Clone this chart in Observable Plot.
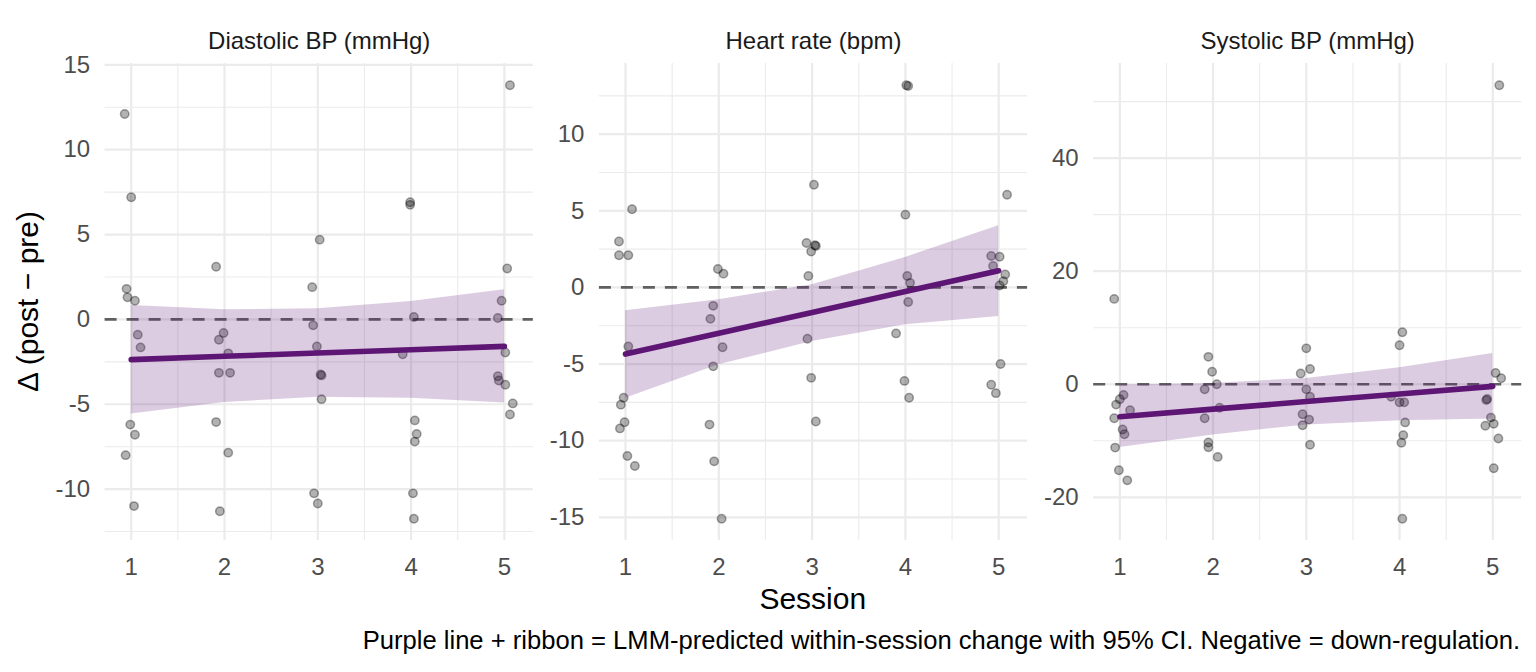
<!DOCTYPE html>
<html>
<head>
<meta charset="utf-8">
<script src="https://cdn.jsdelivr.net/npm/d3@7"></script>
<script src="https://cdn.jsdelivr.net/npm/@observablehq/plot@0.6"></script>
<style>
  html, body { margin: 0; padding: 0; background: #ffffff; }
  #root { position: relative; width: 1536px; height: 672px; overflow: hidden; font-family: "Liberation Sans", Arial, sans-serif; }
  .panel { position: absolute; top: 0; }
  #overlay { position: absolute; left: 0; top: 0; pointer-events: none; }
</style>
</head>
<body>
<div id="root">
  <div class="panel" id="p1" style="left:0px"></div>
  <div class="panel" id="p2" style="left:540px"></div>
  <div class="panel" id="p3" style="left:1035px"></div>
  <svg id="overlay" width="1536" height="672" font-family="Liberation Sans, Arial, sans-serif">
    <text id="ytitle" transform="translate(38,301.5) rotate(-90)" text-anchor="middle" font-size="30" fill="#000">Δ (post − pre)</text>
    <text id="xtitle" x="812.8" y="608.5" text-anchor="middle" font-size="30" fill="#000">Session</text>
    <text id="caption" x="1520" y="649" text-anchor="end" font-size="25.6" fill="#000">Purple line + ribbon = LMM-predicted within-session change with 95% CI. Negative = down-regulation.</text>
  </svg>
</div>
<script>
// ---------- data ----------
const panelTitles = ["Diastolic BP (mmHg)", "Heart rate (bpm)", "Systolic BP (mmHg)"];

const sessionTicks = [1, 2, 3, 4, 5];
const sessionMinor = [1.5, 2.5, 3.5, 4.5];
const xDomain = [0.72, 5.31];

// Diastolic BP: jittered session, change
const dbpSession = [0.93,1.00,0.95,0.96,1.04,1.07,1.10,0.99,1.04,0.94,1.03,
  1.91,1.99,1.94,2.04,1.94,2.06,1.91,2.04,1.95,
  3.02,2.94,2.95,2.99,3.03,3.04,3.04,2.96,3.00,
  3.99,3.99,4.03,3.91,4.04,4.06,4.04,4.02,4.03,
  5.06,5.03,4.97,4.93,5.01,4.93,4.94,5.01,5.09,5.06];
const dbpChange = [12.1,7.2,1.8,1.3,1.1,-0.9,-1.65,-6.2,-6.8,-8.0,-11.0,
  3.1,-0.8,-1.2,-2.0,-3.15,-3.15,-6.05,-7.85,-11.3,
  4.7,1.9,-0.35,-1.6,-3.25,-3.3,-4.7,-10.25,-10.85,
  6.9,6.75,0.14,-2.05,-5.95,-6.75,-7.2,-10.25,-11.75,
  13.8,3.0,1.1,0.08,-1.95,-3.35,-3.6,-3.85,-4.95,-5.6];

// Heart rate
const hrSession = [0.93,0.93,1.03,1.07,1.03,0.98,0.95,0.99,0.94,1.02,1.10,
  1.99,2.05,1.94,1.91,2.04,1.94,1.90,1.95,2.03,
  3.02,2.94,3.03,3.04,2.99,2.96,2.95,2.99,3.04,
  4.01,4.03,4.00,4.02,4.05,4.03,3.90,3.99,4.04,
  5.09,4.92,5.01,4.94,5.07,5.05,5.01,5.02,4.92,4.97];
const hrChange = [3.0,2.1,2.1,5.1,-3.85,-7.2,-7.65,-8.8,-9.2,-11.0,-11.65,
  1.2,0.9,-1.2,-2.05,-3.9,-5.15,-8.95,-11.35,-15.1,
  6.7,2.9,2.75,2.7,2.35,0.75,-3.35,-5.9,-8.75,
  13.2,13.15,4.75,0.75,0.3,-0.95,-3.0,-6.1,-7.2,
  6.05,2.05,2.0,1.4,0.85,0.4,0.13,-5.0,-6.35,-6.9];

// Systolic BP
const sbpSession = [0.94,1.04,1.00,0.96,1.11,0.94,1.03,1.05,0.95,0.99,1.08,
  1.95,1.99,2.04,1.91,2.07,1.91,1.95,1.95,2.05,
  3.00,3.04,2.94,3.00,3.04,2.96,3.03,2.96,3.04,
  4.03,4.00,3.91,4.00,4.05,4.06,4.04,4.02,4.03,
  5.07,5.03,5.09,4.93,4.94,4.98,4.92,5.01,5.06,5.01];
const sbpChange = [15.1,-1.9,-2.65,-3.6,-4.6,-6.0,-8.0,-8.85,-11.2,-15.2,-17.0,
  4.85,2.2,0.0,-0.9,-4.15,-6.0,-10.3,-11.15,-12.85,
  6.35,2.7,1.9,-0.9,-2.2,-5.3,-6.25,-7.25,-10.7,
  9.2,6.9,-2.2,-3.2,-3.2,-6.75,-9.0,-10.35,-23.8,
  52.9,2.0,1.05,-2.8,-2.6,-5.9,-7.35,-7.0,-9.6,-14.85];

// LMM predictions (sessions 1..5)
const fitSession = [1, 2, 3, 4, 5];
const dbpFit = [-2.37, -2.175, -1.98, -1.785, -1.59];
const dbpLo  = [-5.57, -4.90, -4.58, -4.64, -4.92];
const dbpHi  = [0.82, 0.57, 0.62, 1.06, 1.74];
const hrFit = [-4.35, -2.99, -1.63, -0.27, 1.09];
const hrLo  = [-7.23, -5.05, -3.53, -2.44, -1.90];
const hrHi  = [-1.52, -0.80, 0.18, 1.96, 4.03];
const sbpFit = [-5.74, -4.40, -3.06, -1.71, -0.37];
const sbpLo  = [-11.2, -8.97, -7.20, -6.44, -6.15];
const sbpHi  = [-0.14, 0.15, 1.04, 2.92, 5.45];

// y ticks
const dbpTicks = [-10, -5, 0, 5, 10, 15];
const dbpMinor = [-12.5, -7.5, -2.5, 2.5, 7.5, 12.5];
const hrTicks = [-15, -10, -5, 0, 5, 10];
const hrMinor = [-12.5, -7.5, -2.5, 2.5, 7.5, 12.5];
const sbpTicks = [-20, 0, 20, 40];
const sbpMinor = [-10, 10, 30, 50];

// ---------- drawing ----------
const PURPLE = "#5E1675";
const GRID = "#EBEBEB";

function panel(o) {
  const pts = o.px.map((x, i) => ({x, y: o.py[i]}));
  const fitRows = fitSession.map((s, i) => ({s, fit: o.fit[i], lo: o.lo[i], hi: o.hi[i]}));
  const allY = [...o.py, ...o.lo, ...o.hi, 0];
  const [mn, mx] = d3.extent(allY);
  const pad = (mx - mn) * 0.05;
  return Plot.plot({
    width: o.width,
    height: 590,
    marginLeft: o.mL,
    marginRight: o.mR,
    marginTop: 63,
    marginBottom: 50,
    x: {domain: xDomain, axis: null},
    y: {domain: [mn - pad, mx + pad], axis: null},
    style: {fontFamily: "Liberation Sans, Arial, sans-serif", fontSize: "24px", color: "#4D4D4D", background: "transparent", overflow: "visible"},
    marks: [
      Plot.ruleX(sessionMinor, {stroke: GRID, strokeWidth: 1.1}),
      Plot.ruleY(o.yMinor, {stroke: GRID, strokeWidth: 1.1}),
      Plot.ruleX(sessionTicks, {stroke: GRID, strokeWidth: 2.2}),
      Plot.ruleY(o.yTicks, {stroke: GRID, strokeWidth: 2.2}),
      Plot.ruleY([0], {stroke: "#606060", strokeWidth: 2.7, strokeDasharray: "12,10"}),
      Plot.dot(pts, {x: "x", y: "y", r: 4.2, fill: "#000", fillOpacity: 0.3, stroke: "#000", strokeOpacity: 0.35, strokeWidth: 1.5}),
      Plot.areaY(fitRows, {x: "s", y1: "lo", y2: "hi", fill: PURPLE, fillOpacity: 0.22}),
      Plot.line(fitRows, {x: "s", y: "fit", stroke: PURPLE, strokeWidth: 5.6}),
      Plot.axisX(sessionTicks, {tickSize: 0, tickPadding: 17, label: null, fontSize: 24}),
      Plot.axisY(o.yTicks, {tickSize: 0, tickPadding: 15, label: null, fontSize: 24, tickFormat: d => String(d)}),
      Plot.text([o.title], {frameAnchor: "top", dy: -22, lineAnchor: "middle", fontSize: 24, fill: "#1A1A1A"})
    ]
  });
}

document.getElementById("p1").appendChild(panel({
  title: panelTitles[0], px: dbpSession, py: dbpChange, fit: dbpFit, lo: dbpLo, hi: dbpHi,
  yTicks: dbpTicks, yMinor: dbpMinor, width: 540, mL: 104.6, mR: 7.2
}));
document.getElementById("p2").appendChild(panel({
  title: panelTitles[1], px: hrSession, py: hrChange, fit: hrFit, lo: hrLo, hi: hrHi,
  yTicks: hrTicks, yMinor: hrMinor, width: 495, mL: 58.9, mR: 7.9
}));
document.getElementById("p3").appendChild(panel({
  title: panelTitles[2], px: sbpSession, py: sbpChange, fit: sbpFit, lo: sbpLo, hi: sbpHi,
  yTicks: sbpTicks, yMinor: sbpMinor, width: 501, mL: 58.2, mR: 14.8
}));
</script>
</body>
</html>
